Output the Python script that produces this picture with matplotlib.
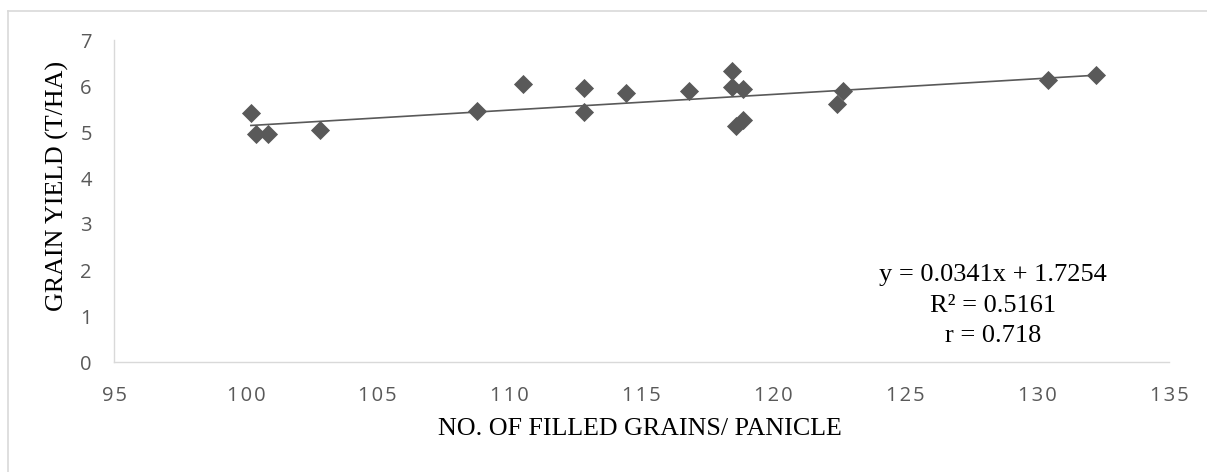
import matplotlib
matplotlib.use("Agg")
import matplotlib.pyplot as plt
from matplotlib.ticker import FuncFormatter
from matplotlib.lines import Line2D

# filled grains per panicle vs grain yield (t/ha)
filled_grains = [100.19, 100.37, 100.82, 102.81, 108.78, 110.52, 112.81, 112.81,
                 114.40, 116.81, 118.42, 118.42, 118.83, 118.60, 118.86, 122.42,
                 122.63, 130.42, 132.22]
grain_yield = [5.42, 4.95, 4.96, 5.04, 5.46, 6.04, 5.96, 5.43,
               5.85, 5.89, 6.33, 5.98, 5.93, 5.13, 5.26, 5.61,
               5.90, 6.12, 6.25]

slope = 0.0341
intercept = 1.7254
eq_lines = ["y = 0.0341x + 1.7254", "R\u00b2 = 0.5161", "r = 0.718"]

x_ticks = [95, 100, 105, 110, 115, 120, 125, 130, 135]
y_ticks = [0, 1, 2, 3, 4, 5, 6, 7]

grey = "#595959"
spine_grey = "#d9d9d9"
tick_font = ["Open Sans", "DejaVu Sans"]
serif = "Liberation Serif"

fig = plt.figure(figsize=(12.07, 4.72), dpi=100)
ax = fig.add_axes([114 / 1207, 1 - 362 / 472, (1169 - 114) / 1207, (362 - 40) / 472])

ax.scatter(filled_grains, grain_yield, marker="D", s=95, color=grey, zorder=3,
           linewidths=0)

x0, x1 = min(filled_grains), max(filled_grains)
ax.plot([x0, x1], [slope * x0 + intercept, slope * x1 + intercept],
        color=grey, lw=1.2, zorder=2)

ax.set_xlim(95, 135)
ax.set_ylim(0, 7)
ax.set_xticks(x_ticks)
ax.set_yticks(y_ticks)
ax.xaxis.set_major_formatter(FuncFormatter(lambda v, p: "\u200a".join(str(int(v)))))

for side in ["top", "right"]:
    ax.spines[side].set_visible(False)
for side in ["left", "bottom"]:
    ax.spines[side].set_color(spine_grey)
    ax.spines[side].set_linewidth(1.0)

ax.tick_params(length=0, colors=grey, labelsize=14.5)
ax.tick_params(axis="x", pad=17)
ax.tick_params(axis="y", pad=16)
for lab in ax.get_xticklabels() + ax.get_yticklabels():
    lab.set_family(tick_font)

ax.set_xlabel("NO. OF FILLED GRAINS/ PANICLE", family=serif, fontsize=18.7,
              color="black")
ax.set_ylabel("GRAIN YIELD (T/HA)", family=serif, fontsize=18.7,
              color="black")
ax.xaxis.set_label_coords((640 - 114) / 1055, (362 - 429) / 322)
ax.yaxis.set_label_coords((57.5 - 114) / 1055, (362 - 185.5) / 322)
ax.xaxis.label.set_va("center")
ax.yaxis.label.set_va("center")

# regression annotation
for i, line in enumerate(eq_lines):
    fig.text(993 / 1207, 1 - (275 + 30.5 * i) / 472, line, family=serif,
             fontsize=19, ha="center", va="center")

# chart area border (left and top visible)
fig.add_artist(Line2D([8 / 1207, 8 / 1207], [0, 1 - 11 / 472], color=spine_grey,
                      lw=1.2, transform=fig.transFigure))
fig.add_artist(Line2D([8 / 1207, 1], [1 - 11 / 472, 1 - 11 / 472], color=spine_grey,
                      lw=1.2, transform=fig.transFigure))

fig.savefig("out.png", dpi=100)
